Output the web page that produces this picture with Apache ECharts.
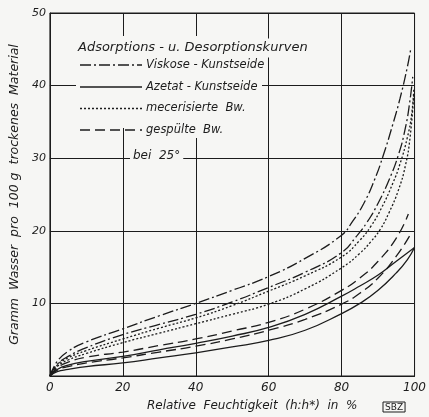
<!DOCTYPE html>
<html><head><meta charset="utf-8">
<script src="https://cdn.jsdelivr.net/npm/echarts@6/dist/echarts.min.js"></script>
<style>html,body{margin:0;padding:0;background:#f6f6f4;}#c{width:429px;height:417px;}</style>
</head><body><div id="c"></div>
<script>
// x: relative humidity (%), y: gram water per 100 g dry material
const xTicks = [0, 20, 40, 60, 80, 100];
const yTicks = [0, 10, 20, 30, 40, 50];

const viskoseDesX = [0, 2, 5, 10, 20, 30, 40, 50, 60, 70, 80, 83, 86, 89, 91.5, 94, 96, 98, 99];
const viskoseDesY = [0, 2.0, 3.4, 4.7, 6.5, 8.3, 10.0, 11.8, 13.7, 16.2, 19.4, 21.3, 23.7, 27.0, 30.5, 34.6, 38.2, 42.5, 45.2];
const viskoseAdsX = [0, 2, 5, 10, 20, 30, 40, 50, 60, 70, 80, 84, 87, 90, 93, 95.6, 97.5, 98.7, 99.5];
const viskoseAdsY = [0, 1.6, 2.7, 3.9, 5.7, 7.1, 8.5, 10.2, 12.2, 14.3, 17.0, 19.2, 21.2, 23.8, 27.0, 30.5, 34.2, 37.8, 41.2];

const mercDesX = [0, 2, 5, 10, 20, 30, 40, 50, 60, 70, 80, 85, 88, 91, 94, 96, 98, 99.2, 99.8];
const mercDesY = [0, 1.5, 2.5, 3.5, 5.1, 6.6, 8.0, 9.7, 11.7, 13.8, 16.4, 18.7, 20.6, 23.2, 26.5, 29.2, 32.8, 36.0, 39.6];
const mercAdsX = [0, 2, 5, 10, 20, 30, 40, 50, 60, 70, 80, 85, 88, 90.6, 93, 95.5, 97.5, 98.8, 99.8];
const mercAdsY = [0, 1.3, 2.2, 3.1, 4.6, 5.9, 7.2, 8.5, 9.9, 12.0, 14.9, 16.9, 18.5, 20.2, 22.5, 25.5, 29.0, 33.0, 39.0];

const gespDesX = [0, 2, 5, 10, 20, 30, 40, 50, 60, 70, 80, 85, 90, 95, 98.3];
const gespDesY = [0, 1.1, 1.9, 2.6, 3.3, 4.2, 5.1, 6.2, 7.4, 9.2, 11.8, 13.5, 15.8, 19.0, 22.3];
const gespAdsX = [0, 2, 5, 10, 20, 30, 40, 50, 60, 70, 80, 85, 90, 95, 99];
const gespAdsY = [0, 0.8, 1.3, 1.8, 2.5, 3.3, 4.1, 5.1, 6.3, 7.8, 9.9, 11.4, 13.5, 16.5, 19.6];

const azetDesX = [0, 2, 5, 10, 20, 30, 40, 50, 60, 70, 80, 85, 90, 95, 100];
const azetDesY = [0, 0.9, 1.5, 2.0, 2.7, 3.6, 4.5, 5.5, 6.7, 8.5, 11.0, 12.4, 13.9, 15.8, 17.7];
const azetAdsX = [0, 2, 5, 10, 20, 30, 40, 50, 60, 70, 80, 85, 90, 95, 98, 100];
const azetAdsY = [0, 0.6, 0.9, 1.3, 1.8, 2.5, 3.2, 4.0, 4.9, 6.3, 8.6, 10.0, 11.8, 14.2, 16.0, 17.7];

const legendTitle = 'Adsorptions - u. Desorptionskurven';
const legendNames = ['Viskose - Kunstseide', 'Azetat - Kunstseide', 'mecerisierte  Bw.', 'gespülte  Bw.'];
const noteText = 'bei  25°';

const ink = '#1c1c1c';
const paper = '#f6f6f4';
const styles = {
  dashdot: [11, 3, 2, 3],
  solid: 'solid',
  dotted: [2, 2],
  dashed: [10, 5]
};
const zip = (xs, ys) => xs.map((x, i) => [x, ys[i]]);
function mk(name, xs, ys, type) {
  return {
    name: name, type: 'line', data: zip(xs, ys), smooth: 0.5,
    showSymbol: false, symbol: 'none', silent: true,
    lineStyle: { color: ink, width: 1.3, type: styles[type] }, z: 3
  };
}
const font = 'DejaVu Sans';
const txt = { fontStyle: 'italic', fontFamily: font, fill: ink, fontSize: 12 };
const rows = [65, 87, 108.5, 130];
const rowTypes = ['dashdot', 'solid', 'dotted', 'dashed'];
const graphics = [
  { type: 'rect', shape: { x: 76, y: 36, width: 186, height: 92 }, style: { fill: paper }, z: 5 },
  { type: 'text', x: 78, y: 48, style: Object.assign({}, txt, { text: legendTitle, fontSize: 13, verticalAlign: 'middle', backgroundColor: paper, padding: [3, 2, 3, 0] }), z: 6 }
];
rows.forEach((y, i) => {
  graphics.push({ type: 'line', shape: { x1: 80, y1: y, x2: 142, y2: y }, style: { stroke: ink, lineWidth: 1.3, lineDash: rowTypes[i] === 'solid' ? null : styles[rowTypes[i]] }, z: 6 });
  graphics.push({ type: 'text', x: 146, y: y, style: Object.assign({}, txt, { text: legendNames[i], fontSize: 11.5, verticalAlign: 'middle', backgroundColor: paper, padding: [2, 2, 2, 0] }), z: 6 });
});
graphics.push({ type: 'text', x: 130, y: 156, style: Object.assign({}, txt, { text: noteText, fontSize: 12, verticalAlign: 'middle', backgroundColor: paper, padding: [2, 3, 2, 3] }), z: 6 });
graphics.push({ type: 'text', x: 383, y: 402, style: { text: 'SBZ', fontFamily: font, fontSize: 9, fill: ink, borderColor: ink, borderWidth: 1, padding: [1, 2, 0, 2] }, z: 6 });

const chart = echarts.init(document.getElementById('c'));
chart.setOption({
  backgroundColor: paper,
  animation: false,
  grid: { left: 45, right: 11, top: 13, bottom: 34, show: true, borderColor: ink, borderWidth: 1 },
  xAxis: {
    type: 'value', min: xTicks[0], max: xTicks[xTicks.length - 1], interval: 20,
    name: 'Relative  Feuchtigkeit  (h:h*)  in  %', nameLocation: 'middle', nameGap: 24,
    nameTextStyle: { fontStyle: 'italic', fontFamily: font, fontSize: 12, color: ink, padding: [0, 0, 0, 40] },
    axisLine: { lineStyle: { color: ink } }, axisTick: { show: false },
    axisLabel: { fontStyle: 'italic', fontFamily: font, fontSize: 12, color: ink, margin: 6 },
    splitLine: { lineStyle: { color: ink, width: 1 } }
  },
  yAxis: {
    type: 'value', min: yTicks[0], max: yTicks[yTicks.length - 1], interval: 10,
    name: 'Gramm  Wasser  pro  100 g  trockenes  Material', nameLocation: 'middle', nameGap: 25,
    nameTextStyle: { fontStyle: 'italic', fontFamily: font, fontSize: 12.5, color: ink, padding: [0, 0, 0, 0] },
    axisLine: { show: true, lineStyle: { color: ink } }, axisTick: { show: false },
    axisLabel: { fontStyle: 'italic', fontFamily: font, fontSize: 11, color: ink, margin: 4, showMinLabel: false },
    splitLine: { lineStyle: { color: ink, width: 1 } }
  },
  graphic: graphics,
  series: [
    mk(legendNames[0], viskoseDesX, viskoseDesY, 'dashdot'),
    mk(legendNames[0], viskoseAdsX, viskoseAdsY, 'dashdot'),
    mk(legendNames[1], azetDesX, azetDesY, 'solid'),
    mk(legendNames[1], azetAdsX, azetAdsY, 'solid'),
    mk(legendNames[2], mercDesX, mercDesY, 'dotted'),
    mk(legendNames[2], mercAdsX, mercAdsY, 'dotted'),
    mk(legendNames[3], gespDesX, gespDesY, 'dashed'),
    mk(legendNames[3], gespAdsX, gespAdsY, 'dashed')
  ]
});
</script></body></html>
